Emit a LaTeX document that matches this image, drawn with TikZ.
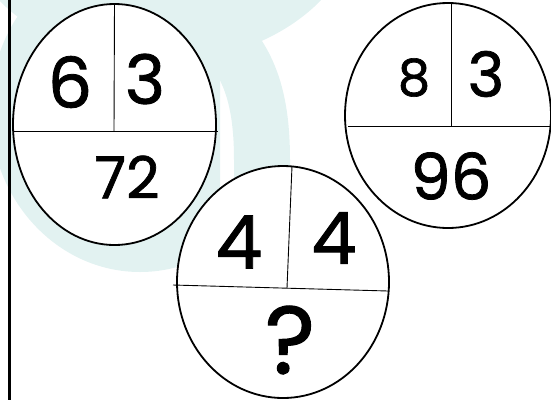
\documentclass[tikz,border=0pt]{standalone}
\usepackage{fontspec}
\newfontfamily\handfont{Poppins}[FakeBold=1.2]
\usetikzlibrary{shapes.geometric}
\definecolor{wmteal}{HTML}{E2F2F1}
\tikzset{
  puzzle/.style={draw, ellipse, line width=1.8pt, fill=white, inner sep=0pt},
  split/.style={line width=0.9pt},
  digit/.style={inner sep=0pt, font=\handfont\fontsize{#1pt}{#1pt}\selectfont},
}
\begin{document}
\begin{tikzpicture}[x=1pt,y=-1pt]
\clip (0,0) rectangle (551,400);
% faint watermark behind
\begin{scope}
  \clip (0,0) rectangle (220,400);
  \fill[wmteal] (140,110) ellipse[x radius=150pt, y radius=162pt];
\end{scope}
\fill[wmteal] (160,-90) ellipse[x radius=200pt, y radius=152pt];
\draw[wmteal, line width=56pt] (222,35) .. controls (250,65) and (262,100) .. (262,160) -- (262,300);
\draw[line width=2.2pt] (9.5,0) -- (9.5,400);
% left puzzle
\node[puzzle, minimum width=203pt, minimum height=241pt] (eL) at (114.5,124.5) {};
\coordinate (lMid) at (114,131.5);
\coordinate (lW) at (13,131.5);
\coordinate (lE) at (218,131.5);
\draw[split] (eL.north) -- (lMid);
\draw[split] (lW) -- (lE);
\node[digit=70] (l6) at (70,82) {6};
\node[digit=68] (l3) at (145,79) {3};
\node[digit=58] (l72) at (127,177) {72};
% right puzzle
\node[puzzle, minimum width=206pt, minimum height=225pt] (eR) at (448,115.5) {};
\coordinate (rTop) at (451,3);
\coordinate (rMid) at (451,126);
\coordinate (rW) at (348,126);
\coordinate (rE) at (551,126);
\draw[split] (rTop) -- (rMid);
\draw[split] (rW) -- (rE);
\node[digit=51] (r8) at (414,77.5) {8};
\node[digit=62] (r3) at (486,74) {3};
\node[digit=64] (r96) at (451,176) {96};
% middle puzzle
\node[puzzle, minimum width=212pt, minimum height=232pt] (eM) at (283,282) {};
\coordinate (mTop) at (292,166);
\coordinate (mMid) at (287,288);
\coordinate (mW) at (173,285);
\coordinate (mE) at (388,291);
\draw[split] (mTop) -- (mMid);
\draw[split] (mW) -- (mE);
\node[digit=74] (m4a) at (239,242) {4};
\node[digit=72] (m4b) at (334,238) {4};
\node[digit=96] (mQ) at (290,340) {?};
\end{tikzpicture}
\end{document}
